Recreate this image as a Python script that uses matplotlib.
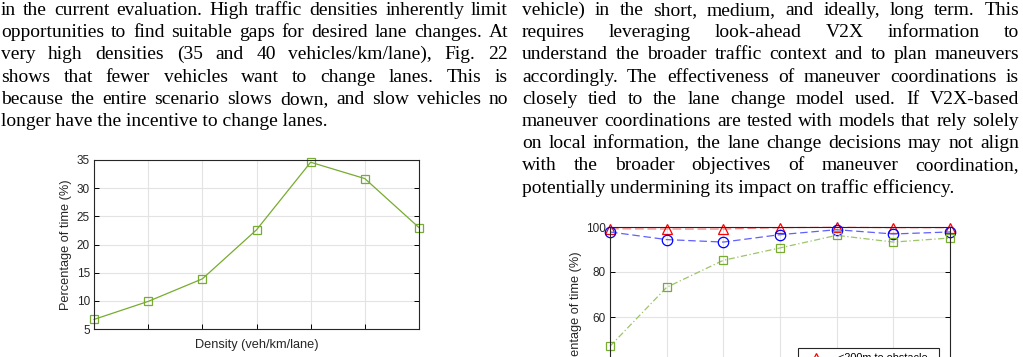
import numpy as np
import matplotlib.pyplot as plt

# text columns of the page
left_lines = [
    "in the current evaluation. High traffic densities inherently limit",
    "opportunities to find suitable gaps for desired lane changes. At",
    "very high densities (35 and 40 vehicles/km/lane), Fig. 22",
    "shows that fewer vehicles want to change lanes. This is",
    "because the entire scenario slows down, and slow vehicles no",
    "longer have the incentive to change lanes.",
]
right_lines = [
    "vehicle) in the short, medium, and ideally, long term. This",
    "requires leveraging look-ahead V2X information to",
    "understand the broader traffic context and to plan maneuvers",
    "accordingly. The effectiveness of maneuver coordinations is",
    "closely tied to the lane change model used. If V2X-based",
    "maneuver coordinations are tested with models that rely solely",
    "on local information, the lane change decisions may not align",
    "with the broader objectives of maneuver coordination,",
    "potentially undermining its impact on traffic efficiency.",
]

# left chart: lane change wish
density_idx = np.arange(7)
wish = [6.7, 9.9, 13.9, 22.6, 34.6, 31.7, 23.0]

# right chart: success per distance class
succ_labels = ["<200m to obstacle", "<500m to obstacle", "<1000m to obstacle"]
succ_red = [99.2, 99.1, 99.1, 99.7, 99.9, 99.7, 99.7]
succ_blue = [97.8, 94.4, 93.3, 96.6, 98.8, 96.9, 97.8]
succ_green = [47.0, 73.2, 85.2, 90.7, 96.3, 93.3, 95.1]

W, H = 1023, 357
fig = plt.figure(figsize=(W / 100, H / 100), dpi=100)
renderer = fig.canvas.get_renderer()

serif = dict(family="Liberation Serif", size=14.0, color="black")


def justify(lines, x0, x1, y0, step):
    for i, line in enumerate(lines):
        y = 1 - (y0 + i * step) / H
        words = line.split()
        if i == len(lines) - 1:
            fig.text(x0 / W, y, line, va="baseline", ha="left", **serif)
            continue
        widths = []
        for w in words:
            t = fig.text(0, 0, w, **serif)
            widths.append(t.get_window_extent(renderer).width)
            t.remove()
        gap = (x1 - x0 - sum(widths)) / (len(words) - 1)
        x = x0
        for w, wd in zip(words, widths):
            fig.text(x / W, y, w, va="baseline", ha="left", **serif)
            x += wd + gap


justify(left_lines, 1, 508, 15, 22.2)
justify(right_lines, 522, 1019, 15, 22.2)

tick_col = "#262626"
grid_col = "#e3e3e3"
green = "#77AC30"
sans = "Liberation Sans"


def style(ax):
    ax.grid(True, color=grid_col, linewidth=0.8)
    ax.set_axisbelow(True)
    ax.tick_params(direction="in", length=3.5, width=0.7, top=False, right=True,
                   labelsize=8.5, labelcolor=tick_col, pad=3)
    ax.set_xticklabels([])
    for s in ax.spines.values():
        s.set_linewidth(0.8)
        s.set_color("#262626")
    for lab in ax.get_yticklabels():
        lab.set_family(sans)


# left chart
ax1 = fig.add_axes([94 / W, 1 - 329 / H, 325 / W, 169 / H])
ax1.plot(density_idx, wish, color=green, linewidth=0.9, marker="s", markersize=5.5,
         markerfacecolor="none", markeredgecolor=green, markeredgewidth=0.9,
         clip_on=False)
ax1.set_xlim(0, 6)
ax1.set_ylim(5, 35)
ax1.set_xticks(density_idx)
ax1.set_yticks(np.arange(5, 36, 5))
style(ax1)
ax1.set_xlabel("Density (veh/km/lane)", family=sans, fontsize=9.2,
               color=tick_col, labelpad=4)
ax1.set_ylabel("Percentage of time (%)", family=sans, fontsize=9.2,
               color=tick_col, labelpad=3)

# right chart (runs off the bottom of the page crop)
ax2 = fig.add_axes([610 / W, 1 - 407 / H, 340 / W, 180 / H])
ax2.plot(density_idx, succ_red, color="#ff8080", linewidth=0.9, dashes=(7, 3),
         marker="^", markersize=7.5, markerfacecolor="none", markeredgecolor="red",
         markeredgewidth=0.9, label=succ_labels[0], clip_on=False)
ax2.plot(density_idx, succ_blue, color="#6060ff", linewidth=0.9, dashes=(6, 3),
         marker="o", markersize=7.5, markerfacecolor="none", markeredgecolor="blue",
         markeredgewidth=0.9, label=succ_labels[1], clip_on=False)
ax2.plot(density_idx, succ_green, color="#9cc46a", linewidth=0.9, dashes=(5, 2, 1, 2),
         marker="s", markersize=5.5, markerfacecolor="none", markeredgecolor=green,
         markeredgewidth=0.9, label=succ_labels[2], clip_on=False)
ax2.set_xlim(0, 6)
ax2.set_ylim(20, 100)
ax2.set_xticks(density_idx)
ax2.set_yticks(np.arange(20, 101, 20))
style(ax2)
ax2.set_ylabel("Percentage of time (%)", family=sans, fontsize=9.2,
               color=tick_col, labelpad=3)
leg = ax2.legend(loc="upper left", bbox_to_anchor=(798 / W, 1 - 348 / H),
                 bbox_transform=fig.transFigure, fancybox=False, framealpha=1,
                 edgecolor="#262626", prop={"family": sans, "size": 7.8},
                 borderaxespad=0, handlelength=2.4, borderpad=0.5)
leg.get_frame().set_linewidth(0.8)

fig.savefig("out.png", dpi=100)
